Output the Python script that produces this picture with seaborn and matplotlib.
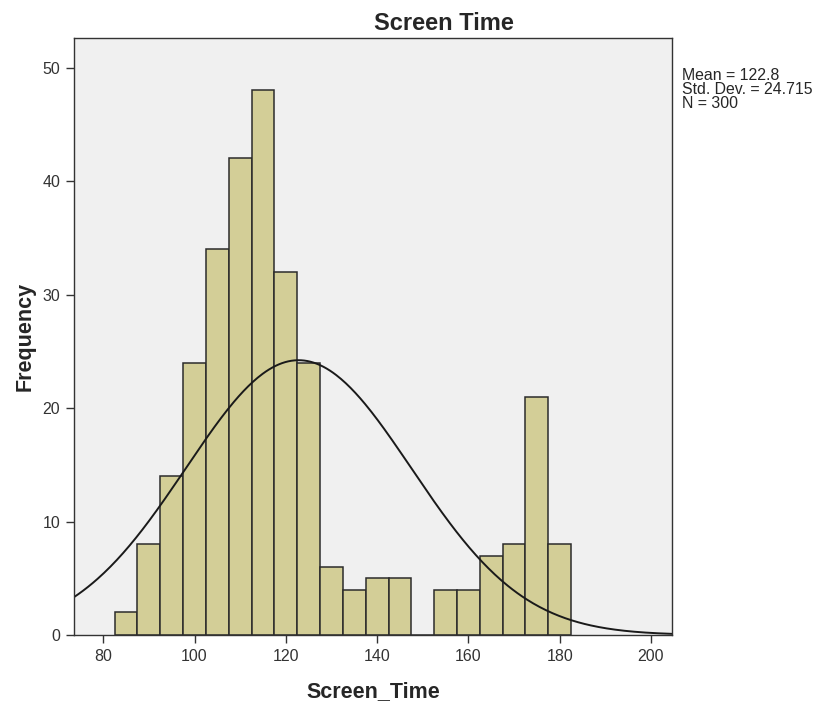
import numpy as np
import pandas as pd
import seaborn as sns
import matplotlib.pyplot as plt

# bin centres (width 5) and counts
bin_centers = [85, 90, 95, 100, 105, 110, 115, 120, 125, 130,
               135, 140, 145, 150, 155, 160, 165, 170, 175, 180]
counts = [2, 8, 14, 24, 34, 42, 48, 32, 24, 6,
          4, 5, 5, 0, 4, 4, 7, 8, 21, 8]
mean_val = 122.8
std_val = 24.715
n_val = 300
bin_width = 5

df = pd.DataFrame({"Screen_Time": bin_centers, "count": counts})

sns.set_style("white")
plt.rcParams['font.family'] = ['Liberation Sans', 'DejaVu Sans']

fig = plt.figure(figsize=(8.16, 7.04), dpi=100)
ax = fig.add_axes([0.0907, 0.098, 0.7328, 0.848])
ax.set_facecolor("#F0F0F0")

sns.histplot(data=df, x="Screen_Time", weights="count", binwidth=bin_width,
             binrange=(82.5, 182.5), color="#D3CE97", alpha=1,
             edgecolor="#2b2b2b", linewidth=1.1, ax=ax)

# fitted normal curve scaled to counts
xs = np.linspace(70, 210, 400)
ys = n_val * bin_width * np.exp(-0.5 * ((xs - mean_val) / std_val) ** 2) / (std_val * np.sqrt(2 * np.pi))
ax.plot(xs, ys, color="#1a1a1a", linewidth=1.4)

ax.set_xlim(73.6, 204.6)
ax.set_ylim(0, 52.6)
ax.set_xticks([80, 100, 120, 140, 160, 180, 200])
ax.set_yticks([0, 10, 20, 30, 40, 50])
ax.tick_params(axis="both", direction="out", length=6, width=1, color="#333333",
               labelsize=11.5, labelcolor="#333333", bottom=True, left=True, pad=4)

for s in ax.spines.values():
    s.set_color("#333333")
    s.set_linewidth(1)

fig.text(444 / 816, 1 - 23 / 704, "Screen Time", fontsize=17, fontweight="bold",
         ha="center", va="center")
ax.set_xlabel("Screen_Time", fontsize=15.5, fontweight="bold", labelpad=12)
ax.set_ylabel("Frequency", fontsize=15.5, fontweight="bold", labelpad=5)

fig.text(682 / 816, 1 - 68 / 704,
         "Mean = %.1f\nStd. Dev. = %.3f\nN = %d" % (mean_val, std_val, n_val),
         fontsize=11.4, va="top", ha="left", linespacing=0.92)

plt.savefig("out.png", dpi=100)
